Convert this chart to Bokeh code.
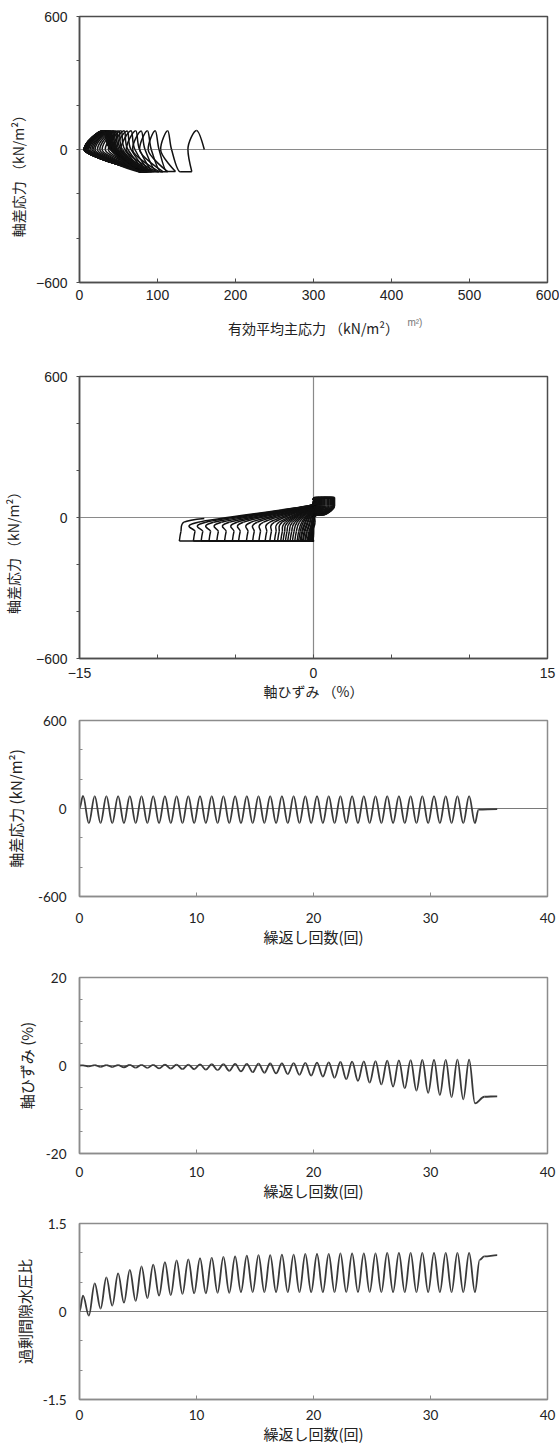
from bokeh.plotting import figure
from bokeh.layouts import column
from bokeh.models import FixedTicker, Span, LinearAxis
from bokeh.embed import file_html
from bokeh.resources import INLINE

# ---------------- data ----------------
cycle_no = list(range(1, 35))

# deviator stress q (kN/m2) at each compression peak / extension trough
q_peak = [86, 85, 85, 85, 84, 85, 85, 84, 85, 85, 85, 84, 85, 85, 85, 85, 84,
          85, 85, 85, 84, 85, 85, 85, 85, 84, 85, 85, 85, 85, 84, 85, 85, 85]
q_trough = [-100, -99, -100, -100, -100, -99, -100, -100, -100, -100, -99, -100,
            -100, -100, -100, -99, -100, -100, -100, -100, -99, -100, -100, -100,
            -100, -100, -99, -100, -100, -100, -100, -99, -100, -100]
q_end_t = [34.1, 35.7]
q_end = [-8, -4]

# axial strain (%) at each peak / trough
strain_peak = [0.05, 0.08, 0.10, 0.10, 0.12, 0.15, 0.15, 0.18, 0.20, 0.20,
               0.25, 0.28, 0.30, 0.35, 0.38, 0.42, 0.46, 0.50, 0.55, 0.60,
               0.66, 0.72, 0.80, 0.88, 0.95, 1.00, 1.08, 1.15, 1.20, 1.25,
               1.28, 1.30, 1.33, 1.35]
strain_trough = [-0.20, -0.30, -0.35, -0.40, -0.50, -0.55, -0.65, -0.70, -0.80, -0.85,
                 -0.95, -1.05, -1.20, -1.35, -1.50, -1.65, -1.80, -1.95, -2.10, -2.30,
                 -2.50, -2.80, -3.10, -3.50, -3.90, -4.30, -4.80, -5.20, -5.70, -6.20,
                 -6.70, -7.20, -7.70, -8.60]
strain_end_t = [34.6, 35.7]
strain_end = [-7.1, -7.0]

# excess pore water pressure ratio at each peak / trough
ru_peak = [0.27, 0.48, 0.58, 0.65, 0.71, 0.77, 0.80, 0.84, 0.87, 0.89,
           0.91, 0.92, 0.93, 0.94, 0.95, 0.96, 0.96, 0.97, 0.97, 0.98,
           0.98, 0.98, 0.99, 0.99, 0.99, 0.99, 1.00, 1.00, 1.00, 1.00,
           1.00, 1.00, 1.00, 1.00]
ru_trough = [-0.07, 0.05, 0.10, 0.15, 0.18, 0.23, 0.27, 0.28, 0.30, 0.31,
             0.31, 0.32, 0.32, 0.33, 0.33, 0.33, 0.33, 0.33, 0.33, 0.33,
             0.33, 0.33, 0.33, 0.33, 0.33, 0.33, 0.33, 0.33, 0.33, 0.33,
             0.33, 0.33, 0.33, 0.33]
ru_end_t = [34.2, 34.6, 35.7]
ru_end = [0.88, 0.94, 0.96]

# effective mean principal stress p' (kN/m2) along the stress path, per cycle
p_start = 160
p_peak = [150, 113, 97, 87, 79, 72, 66, 61, 57, 53, 50, 47, 45, 43, 41, 39, 38,
          37, 36, 35, 34, 33, 33, 32, 32, 31, 31, 31, 30, 30, 30, 30, 30, 30]
p_unload = [139, 104, 88, 77, 68, 60, 53, 47, 42, 37, 33, 29, 26, 23, 20, 18, 16,
            14, 12, 11, 10, 9, 8, 8, 7, 7, 6, 6, 6, 6, 6, 6, 6, 6]
p_trough_in = [144, 123, 113, 107, 102, 98, 95, 93, 91, 89, 88, 87, 86, 85, 85, 84, 84,
               84, 83, 83, 83, 82, 82, 82, 82, 81, 81, 81, 81, 81, 80, 80, 80, 80]
p_trough_out = [129, 112, 104, 99, 95, 92, 90, 88, 86, 85, 84, 83, 82, 82, 81, 81, 80,
                80, 80, 79, 79, 79, 79, 78, 78, 78, 78, 78, 78, 78, 78, 78, 78, 78]
p_reload = [118, 102, 92, 84, 77, 71, 66, 62, 58, 55, 53, 51, 49, 48, 47, 46, 45,
            44, 44, 43, 43, 42, 42, 42, 41, 41, 41, 41, 40, 40, 40, 40, 40]
p_final = 6

# ---------------- helpers ----------------
PEAK_PHASE, TROUGH_PHASE = 0.7, 0.2
JP = "Noto Sans CJK JP"


def wave(peaks, troughs, end_t, end_v):
    t, v = [0.0], [0.0]
    for n, pk, tr in zip(cycle_no, peaks, troughs):
        t += [n - PEAK_PHASE, n - TROUGH_PHASE]
        v += [pk, tr]
    return t + end_t, v + end_v


def draw_wave(p, t, v, color="#3a3a3a", width=1.8):
    k = 0.3642
    x0, x1, y0, y1 = t[:-1], t[1:], v[:-1], v[1:]
    cx0 = [a + k * (b - a) for a, b in zip(x0, x1)]
    cx1 = [b - k * (b - a) for a, b in zip(x0, x1)]
    p.bezier(x0=x0, y0=y0, x1=x1, y1=y1, cx0=cx0, cy0=y0, cx1=cx1, cy1=y1,
             line_color=color, line_width=width)


def smooth_path(p, xs, ys, color="#111111", width=1.5):
    """Catmull-Rom style curve through the points (extremes kept flat)."""
    n = len(xs)
    tx, ty = [], []
    for i in range(n):
        i0, i1 = max(i - 1, 0), min(i + 1, n - 1)
        dx = (xs[i1] - xs[i0]) / 2.0
        dy = (ys[i1] - ys[i0]) / 2.0
        if (xs[i] >= xs[i0] and xs[i] >= xs[i1]) or (xs[i] <= xs[i0] and xs[i] <= xs[i1]):
            dx = 0.0
        if (ys[i] >= ys[i0] and ys[i] >= ys[i1]) or (ys[i] <= ys[i0] and ys[i] <= ys[i1]):
            dy = 0.0
        tx.append(dx)
        ty.append(dy)
    idx = range(n - 1)
    p.bezier(x0=[xs[i] for i in idx], y0=[ys[i] for i in idx],
             x1=[xs[i + 1] for i in idx], y1=[ys[i + 1] for i in idx],
             cx0=[xs[i] + tx[i] / 3.0 for i in idx], cy0=[ys[i] + ty[i] / 3.0 for i in idx],
             cx1=[xs[i + 1] - tx[i + 1] / 3.0 for i in idx],
             cy1=[ys[i + 1] - ty[i + 1] / 3.0 for i in idx],
             line_color=color, line_width=width)


def base(width, height, xr, yr, mbl, mbr, mbt, mbb):
    p = figure(width=width, height=height, x_range=xr, y_range=yr,
               output_backend="svg", toolbar_location=None,
               min_border_left=mbl, min_border_right=mbr,
               min_border_top=mbt, min_border_bottom=mbb,
               background_fill_color="white", border_fill_color="white")
    p.xgrid.visible = False
    p.ygrid.visible = False
    return p


def style(p, border, bw, tick_font, tick_size, label_size,
          xs, xls, ys, yls, y_tick_out):
    p.outline_line_color = border
    p.outline_line_width = bw
    xa, ya = p.below[0], p.left[0]
    for ax in (xa, ya):
        ax.axis_line_color = border
        ax.axis_line_width = bw
        ax.major_tick_line_color = border
        ax.minor_tick_line_color = border
        ax.major_label_text_font = tick_font
        ax.major_label_text_font_size = tick_size
        ax.major_label_text_color = "#222222"
        ax.axis_label_text_font = JP
        ax.axis_label_text_font_size = label_size
        ax.axis_label_text_font_style = "normal"
        ax.axis_label_text_color = "#222222"
    xa.major_tick_in, xa.major_tick_out = 4, 0
    xa.minor_tick_in, xa.minor_tick_out = 4, 0
    xa.major_label_standoff = xs
    xa.axis_label_standoff = xls
    ya.major_tick_in, ya.major_tick_out = 0, y_tick_out
    ya.minor_tick_in, ya.minor_tick_out = (0, 3) if y_tick_out else (3, 0)
    ya.major_label_standoff = ys
    ya.axis_label_standoff = yls


def text_axis(at, text, font, size, color, standoff, vertical=False):
    """An extra, line-less axis whose single tick label carries a text."""
    ax = LinearAxis(ticker=FixedTicker(ticks=[at]),
                    major_label_overrides={at: text},
                    axis_line_color=None, major_tick_line_color=None,
                    minor_tick_line_color=None,
                    major_label_text_font=font,
                    major_label_text_font_size=size,
                    major_label_text_color=color,
                    major_label_standoff=standoff)
    if vertical:
        ax.major_label_orientation = "vertical"
    return ax


def zero_line(p, dim="width", color="#7a7a7a"):
    p.add_layout(Span(location=0, dimension=dim, line_color=color,
                      line_width=1.2, level="underlay"))


# ---------------- panel 1: stress path ----------------
px, py = [p_start], [0]
for i in range(len(cycle_no)):
    if i > 0:
        px.append(p_reload[i - 1]); py.append(0)
    px += [p_peak[i], p_unload[i], p_trough_in[i], p_trough_out[i]]
    py += [q_peak[i], 0, q_trough[i], q_trough[i]]
px.append(p_final); py.append(0)

p1 = base(559, 340, (0, 600), (-600, 600), 71, 12, 16, 58)
zero_line(p1, color="#8a8a8a")
smooth_path(p1, px, py)
p1.xaxis.ticker = FixedTicker(ticks=[0, 100, 200, 300, 400, 500, 600])
p1.yaxis.ticker = FixedTicker(ticks=[-600, 0, 600], minor_ticks=[-400, -200, 200, 400])
p1.yaxis.major_label_overrides = {-600: "\u2212600", 0: "0", 600: "600"}
style(p1, "#4d4d4d", 1.5, "Liberation Sans", "14px", "14px", 7, 12, 9, 0, 3)
# second line below the ticks: the stray small unit text plus the axis title
xl1 = text_axis(430, "m²)", "Liberation Sans", "10px", "#777777", 8)
xl1.axis_label = "有効平均主応力 （kN/m²）"
xl1.axis_label_text_font = JP
xl1.axis_label_text_font_size = "14px"
xl1.axis_label_text_font_style = "normal"
xl1.axis_label_text_color = "#222222"
xl1.axis_label_standoff = -13
p1.add_layout(xl1, "below")
p1.add_layout(text_axis(-104, "軸差応力 （kN/m²）", JP, "14px", "#222222", -2,
                        vertical=True), "left")

# ---------------- panel 2: axial strain vs q ----------------
ex, ey = [0.0], [0.0]
for i in range(len(cycle_no)):
    e_min = strain_trough[i]
    ex += [strain_peak[i], strain_peak[i], 0.6 * strain_peak[i], 0.0,
           0.04 * e_min, 0.1 * e_min, e_min, e_min + 0.1, e_min + 0.3]
    ey += [q_peak[i], 50, 15, 0,
           q_trough[i], q_trough[i], q_trough[i], -60, -20]
    if i < len(cycle_no) - 1:
        ex += [0.04 * e_min, 0.03]
        ey += [50, 80]
ex.append(strain_end[-1]); ey.append(q_end[-1])

p2 = base(559, 364, (-15, 15), (-600, 600), 77, 10, 36, 46)
zero_line(p2, "width", "#8a8a8a")
zero_line(p2, "height", "#8a8a8a")
smooth_path(p2, ex, ey)
p2.xaxis.ticker = FixedTicker(ticks=[-15, 0, 15], minor_ticks=[-10, -5, 5, 10])
p2.xaxis.major_label_overrides = {-15: "\u221215", 0: "0", 15: "15"}
p2.yaxis.ticker = FixedTicker(ticks=[-600, 0, 600], minor_ticks=[-400, -200, 200, 400])
p2.yaxis.major_label_overrides = {-600: "\u2212600", 0: "0", 600: "600"}
p2.xaxis.axis_label = "軸ひずみ （%）"
style(p2, "#4d4d4d", 1.5, "Liberation Sans", "14px", "14px", 9, 0, 9, 3, 3)
p2.add_layout(text_axis(-136, "軸差応力 （kN/m²）", JP, "14px", "#222222", 3,
                        vertical=True), "left")

# ---------------- panel 3: q vs cycles ----------------
p3 = base(559, 246, (0, 40), (-600, 600), 77, 10, 16, 54)
zero_line(p3)
t3, v3 = wave(q_peak, q_trough, q_end_t, q_end)
draw_wave(p3, t3, v3)
p3.xaxis.ticker = FixedTicker(ticks=[0, 10, 20, 30, 40])
p3.yaxis.ticker = FixedTicker(ticks=[-600, 0, 600], minor_ticks=[-400, -200, 200, 400])
p3.yaxis.major_label_overrides = {-600: "-600", 0: "0", 600: "600"}
p3.xaxis.axis_label = "繰返し回数(回)"
p3.yaxis.axis_label = "軸差応力 (kN/m²)"
style(p3, "#8c8c8c", 1.5, "Lato", "13.5px", "15px", 16, 0, 13, 9, 0)

# ---------------- panel 4: strain vs cycles ----------------
p4 = base(559, 254, (0, 40), (-20, 20), 77, 10, 27, 51)
zero_line(p4)
t4, v4 = wave(strain_peak, strain_trough, strain_end_t, strain_end)
draw_wave(p4, t4, v4)
p4.xaxis.ticker = FixedTicker(ticks=[0, 10, 20, 30, 40])
p4.yaxis.ticker = FixedTicker(ticks=[-20, 0, 20], minor_ticks=[-15, -10, -5, 5, 10, 15])
p4.yaxis.major_label_overrides = {-20: "-20", 0: "0", 20: "20"}
p4.xaxis.axis_label = "繰返し回数(回)"
p4.yaxis.axis_label = "軸ひずみ (%)"
style(p4, "#8c8c8c", 1.5, "Lato", "13.5px", "15px", 13, 0, 13, 6, 0)

# ---------------- panel 5: pore pressure ratio vs cycles ----------------
p5 = base(559, 243, (0, 40), (-1.5, 1.5), 77, 10, 19, 48)
zero_line(p5)
t5, v5 = wave(ru_peak, ru_trough, ru_end_t, ru_end)
draw_wave(p5, t5, v5)
p5.xaxis.ticker = FixedTicker(ticks=[0, 10, 20, 30, 40])
p5.yaxis.ticker = FixedTicker(ticks=[-1.5, 0, 1.5], minor_ticks=[-1.0, -0.5, 0.5, 1.0])
p5.yaxis.major_label_overrides = {-1.5: "-1.5", 0: "0", 1.5: "1.5"}
p5.xaxis.axis_label = "繰返し回数(回)"
p5.yaxis.axis_label = "過剰間隙水圧比"
style(p5, "#8c8c8c", 1.5, "Lato", "13.5px", "15px", 10, 0, 13, 5, 0)

layout = column(p1, p2, p3, p4, p5, spacing=0)
open("out.html", "w").write(file_html(layout, INLINE))
